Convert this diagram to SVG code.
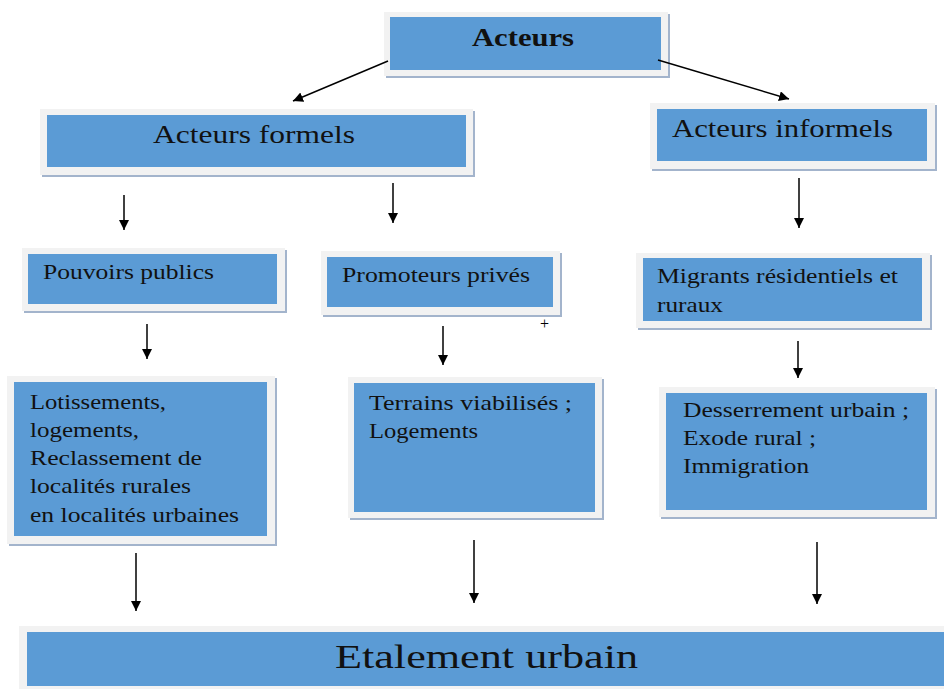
<svg xmlns="http://www.w3.org/2000/svg" width="944" height="689" viewBox="0 0 944 689">
  <defs>
    <marker id="head" viewBox="0 0 10 10" refX="10" refY="5" markerWidth="10" markerHeight="10" markerUnits="userSpaceOnUse" orient="auto">
      <path d="M0,0 L10,5 L0,10 z" fill="#000"/>
    </marker>
  </defs>
  <style>
    .shadow { fill: #a3b4cc; }
    .frame { fill: #f2f2f2; }
    .fill { fill: #5b9bd5; }
    text { font-family: "Liberation Serif", "Times New Roman", serif; fill: #111; }
    .head { font-size: 25px; }
    .title { font-size: 25px; font-weight: bold; }
    .body { font-size: 21px; }
    .big { font-size: 34px; }
    .mark { font-size: 16px; fill: #000; }
    .conn line { stroke: #000; stroke-width: 1.5; marker-end: url(#head); }
  </style>
  <rect width="944" height="689" fill="#fff"/>

  <!-- Acteurs -->
  <g id="acteurs">
    <rect class="shadow" x="386" y="14" width="284" height="64"/>
    <rect class="frame" x="384" y="12" width="284" height="64"/>
    <rect class="fill" x="390" y="17" width="271" height="53"/>
    <text class="title" x="472" y="46" textLength="102" lengthAdjust="spacingAndGlyphs">Acteurs</text>
  </g>

  <!-- Acteurs formels -->
  <g id="acteurs-formels">
    <rect class="shadow" x="42" y="111" width="433" height="66"/>
    <rect class="frame" x="40" y="109" width="433" height="66"/>
    <rect class="fill" x="47" y="115" width="419" height="52"/>
    <text class="head" x="153" y="143" textLength="202" lengthAdjust="spacingAndGlyphs">Acteurs formels</text>
  </g>

  <!-- Acteurs informels -->
  <g id="acteurs-informels">
    <rect class="shadow" x="652" y="105" width="285" height="66"/>
    <rect class="frame" x="650" y="103" width="285" height="66"/>
    <rect class="fill" x="657" y="109" width="270" height="52"/>
    <text class="head" x="672" y="137" textLength="221" lengthAdjust="spacingAndGlyphs">Acteurs informels</text>
  </g>

  <!-- Pouvoirs publics -->
  <g id="pouvoirs-publics">
    <rect class="shadow" x="24" y="250" width="263" height="63"/>
    <rect class="frame" x="22" y="248" width="263" height="63"/>
    <rect class="fill" x="28" y="254" width="249" height="50"/>
    <text class="body" x="43" y="279" textLength="171" lengthAdjust="spacingAndGlyphs">Pouvoirs publics</text>
  </g>

  <!-- Promoteurs privés -->
  <g id="promoteurs-prives">
    <rect class="shadow" x="323" y="253" width="239" height="64"/>
    <rect class="frame" x="321" y="251" width="239" height="64"/>
    <rect class="fill" x="327" y="257" width="226" height="50"/>
    <text class="body" x="342" y="282" textLength="188" lengthAdjust="spacingAndGlyphs">Promoteurs privés</text>
    <text class="mark" x="540" y="329">+</text>
  </g>

  <!-- Migrants résidentiels et ruraux -->
  <g id="migrants">
    <rect class="shadow" x="638" y="255" width="294" height="75"/>
    <rect class="frame" x="636" y="253" width="294" height="75"/>
    <rect class="fill" x="643" y="258" width="279" height="63"/>
    <text class="body" x="657" y="283" textLength="241" lengthAdjust="spacingAndGlyphs">Migrants résidentiels et</text>
    <text class="body" x="657" y="312" textLength="66" lengthAdjust="spacingAndGlyphs">ruraux</text>
  </g>

  <!-- Lotissements, logements, reclassement -->
  <g id="lotissements">
    <rect class="shadow" x="9" y="378" width="268" height="168"/>
    <rect class="frame" x="7" y="376" width="268" height="168"/>
    <rect class="fill" x="14" y="382" width="253" height="154"/>
    <text class="body" x="30" y="409" textLength="136" lengthAdjust="spacingAndGlyphs">Lotissements,</text>
    <text class="body" x="30" y="437" textLength="109" lengthAdjust="spacingAndGlyphs">logements,</text>
    <text class="body" x="30" y="465" textLength="172" lengthAdjust="spacingAndGlyphs">Reclassement  de</text>
    <text class="body" x="30" y="493" textLength="161" lengthAdjust="spacingAndGlyphs">localités rurales</text>
    <text class="body" x="30" y="522" textLength="209" lengthAdjust="spacingAndGlyphs">en localités urbaines</text>
  </g>

  <!-- Terrains viabilisés ; Logements -->
  <g id="terrains">
    <rect class="shadow" x="350" y="379" width="254" height="141"/>
    <rect class="frame" x="348" y="377" width="254" height="141"/>
    <rect class="fill" x="354" y="383" width="241" height="129"/>
    <text class="body" x="369" y="410" textLength="203" lengthAdjust="spacingAndGlyphs">Terrains viabilisés ;</text>
    <text class="body" x="369" y="438" textLength="109" lengthAdjust="spacingAndGlyphs">Logements</text>
  </g>

  <!-- Desserrement urbain ; Exode rural ; Immigration -->
  <g id="desserrement">
    <rect class="shadow" x="661" y="389" width="276" height="130"/>
    <rect class="frame" x="659" y="387" width="276" height="130"/>
    <rect class="fill" x="666" y="393" width="261" height="117"/>
    <text class="body" x="683" y="417" textLength="226" lengthAdjust="spacingAndGlyphs">Desserrement urbain ;</text>
    <text class="body" x="683" y="445" textLength="133" lengthAdjust="spacingAndGlyphs">Exode rural ;</text>
    <text class="body" x="683" y="473" textLength="126" lengthAdjust="spacingAndGlyphs">Immigration</text>
  </g>

  <!-- Etalement urbain -->
  <g id="etalement">
    <rect class="frame" x="19" y="626" width="930" height="68"/>
    <rect class="fill" x="27" y="632" width="920" height="54"/>
    <text class="big" x="335" y="668" textLength="303" lengthAdjust="spacingAndGlyphs">Etalement urbain</text>
  </g>

  <!-- Connectors -->
  <g id="connectors" class="conn">
    <line x1="388" y1="61" x2="293" y2="101"/>
    <line x1="658" y1="60" x2="789" y2="99"/>
    <line x1="124" y1="195" x2="124" y2="230"/>
    <line x1="393" y1="183" x2="393" y2="223"/>
    <line x1="799" y1="178" x2="799" y2="228"/>
    <line x1="147" y1="324" x2="147" y2="359"/>
    <line x1="443" y1="326" x2="443" y2="365"/>
    <line x1="798" y1="341" x2="798" y2="378"/>
    <line x1="136" y1="553" x2="136" y2="611"/>
    <line x1="474" y1="540" x2="474" y2="603"/>
    <line x1="817" y1="542" x2="817" y2="604"/>
  </g>
</svg>
